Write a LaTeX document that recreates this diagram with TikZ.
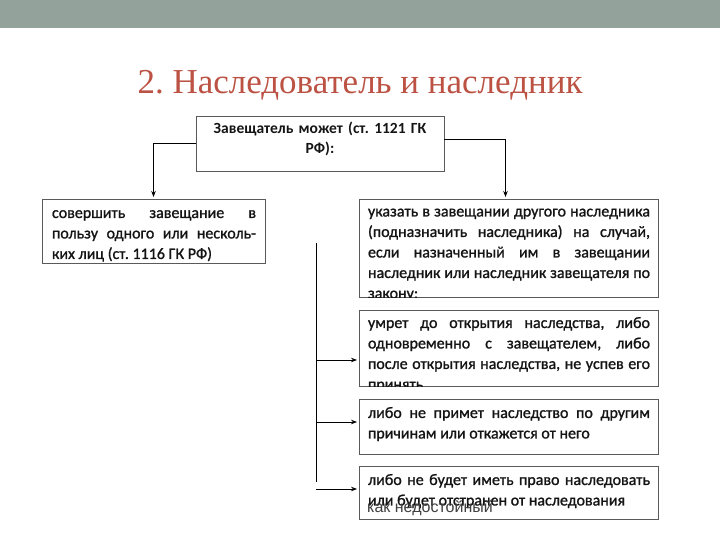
\documentclass[tikz,border=0pt]{standalone}
\usepackage{fontspec}
\setmainfont{Carlito}
\newfontfamily\bodyfont{Carlito}[FakeBold=1.2]
\newfontfamily\titlefont{Liberation Serif}
\newfontfamily\arialfont{Liberation Sans}
\usetikzlibrary{arrows.meta,calc}
\definecolor{band}{RGB}{147,162,154}
\definecolor{titlered}{RGB}{187,82,68}
\definecolor{boxgray}{RGB}{90,90,90}
\definecolor{ink}{RGB}{20,20,20}
\frenchspacing
\begin{document}
\frenchspacing
\begin{tikzpicture}[x=1pt,y=-1pt,
  box/.style={draw=boxgray,line width=0.8pt,anchor=north west,inner sep=0pt,outer sep=0pt},
  txt/.style={anchor=north west,inner sep=0pt,outer sep=0pt,align=justify,text=ink,
    font=\bodyfont\fontsize{16}{20.5}\selectfont,
    execute at begin node={\frenchspacing\hyphenpenalty=10000\tolerance=9999\strut}},
  conn/.style={line width=0.8pt,draw=black},
  arr/.style={conn,shorten >=2pt,-{Stealth[length=6pt,width=4.5pt]}}]
\useasboundingbox (0,0) rectangle (720,540);
\fill[band] (0,0) rectangle (720,28);
\node[font=\titlefont\fontsize{35}{40}\selectfont,text=titlered,anchor=base,inner sep=0pt] (title) at (360,94) {2. Наследователь и наследник};

% boxes
\node[box,minimum width=248pt,minimum height=55pt] (top) at (196,116) {};
\node[box,minimum width=223pt,minimum height=64pt] (lbox) at (42,199) {};
\node[box,minimum width=299pt,minimum height=98pt] (r1) at (359,199) {};
\node[box,minimum width=299pt,minimum height=76pt] (r2) at (359,310) {};
\node[box,minimum width=299pt,minimum height=55pt] (r3) at (359,399) {};
\node[box,minimum width=299pt,minimum height=53pt] (r4) at (359,466) {};

% texts
\node[txt,anchor=north,align=center,text width=240pt,font=\bfseries\fontsize{15.5}{20}\selectfont] (ttop) at (320,120) {Завещатель может (ст. 1121 ГК\\РФ):};
\node[txt,text width=204pt] (tl) at (52,203.6) {совершить завещание в\linebreak пользу одного или несколь-\linebreak ких лиц (ст. 1116 ГК РФ)};
\begin{scope}
\clip (r1.north west) rectangle (r1.south east);
\node[txt,text width=282pt] (t1) at (368,202.1) {указать в завещании другого наследника\linebreak (подназначить наследника) на случай,\linebreak если назначенный им в завещании\linebreak наследник или наследник завещателя по\linebreak закону;};
\end{scope}
\begin{scope}
\clip (r2.north west) rectangle (r2.south east);
\node[txt,text width=282pt] (t2) at (368,313.6) {умрет до открытия наследства, либо\linebreak одновременно с завещателем, либо\linebreak после открытия наследства, не успев его\linebreak принять};
\end{scope}
\node[txt,text width=282pt] (t3) at (368,403.6) {либо не примет наследство по другим\linebreak причинам или откажется от него};
\node[txt,text width=282pt] (t4) at (368,470.6) {\parfillskip=0pt\relax либо не будет иметь право наследовать\linebreak или будет отстранен от наследования};
\node[font=\arialfont\fontsize{16}{18}\selectfont,text=black!75,anchor=base west,inner sep=0pt] (ov) at (367,512) {как недостойный};

% connectors
\draw[arr] (top.west) -| (lbox.north);
\draw[arr] ([yshift=4pt]top.east) -| ([xshift=-3pt]r1.north);
\coordinate (vt) at (316,243);
\coordinate (vb) at (316,482);
\coordinate (a2) at (316,360);
\coordinate (a3) at (316,422);
\coordinate (a4) at (316,489);
\draw[conn] (vt) -- (vb);
\draw[arr] (a2) -- (a2 -| r2.west);
\draw[arr] (a3) -- (a3 -| r3.west);
\draw[arr] (a4) -- (a4 -| r4.west);
\end{tikzpicture}
\end{document}
